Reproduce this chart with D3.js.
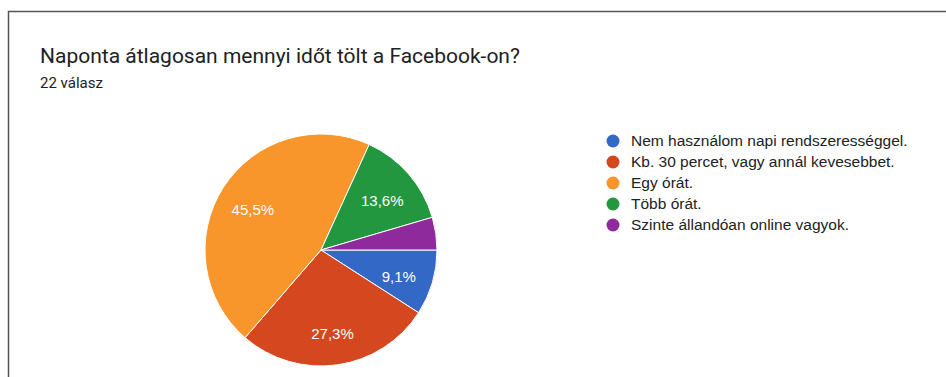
<!DOCTYPE html>
<html><head><meta charset="utf-8">
<script src="https://cdn.jsdelivr.net/npm/d3@7/dist/d3.min.js"></script>
<style>body{margin:0;background:#fff}svg{display:block}</style>
</head><body><svg id="c" width="946" height="377"></svg>
<script>
const categories = ["Nem használom napi rendszerességgel.","Kb. 30 percet, vagy annál kevesebbet.","Egy órát.","Több órát.","Szinte állandóan online vagyok."];
const counts = [2, 6, 10, 3, 1];
const colors = ["#3468c6","#d5471f","#f8962b","#239740","#8e2a9c"];
const title = "Naponta átlagosan mennyi időt tölt a Facebook-on?";
const subtitle = "22 válasz";

const svg = d3.select("#c");
svg.append("path").attr("d","M8.5,377 V11.5 H946").attr("fill","none").attr("stroke","#555").attr("stroke-width",1.5);
svg.append("text").attr("x",40).attr("y",63).attr("font-family","Roboto, sans-serif").attr("font-size",21).attr("fill","#202124").text(title);
svg.append("text").attr("x",40).attr("y",88).attr("font-family","Roboto, sans-serif").attr("font-size",15).attr("fill","#202124").text(subtitle);

const total = d3.sum(counts);
const cx = 321, cy = 250, r = 116;
const pie = d3.pie().sort(null).startAngle(Math.PI/2).endAngle(Math.PI/2 + 2*Math.PI);
const arcs = pie(counts);
const arc = d3.arc().innerRadius(0).outerRadius(r);
const labelArc = d3.arc().innerRadius(81).outerRadius(81);
const g = svg.append("g").attr("transform",`translate(${cx},${cy})`);
g.selectAll("path.s").data(arcs).join("path").attr("class","s")
  .attr("d",arc).attr("fill",(d,i)=>colors[i]).attr("stroke","#fff").attr("stroke-width",1);
const fmt = v => (Math.round(v*1000)/10).toFixed(1).replace(".",",") + "%";
g.selectAll("text").data(arcs.filter(d=>d.data/total>0.05)).join("text")
  .attr("transform",d=>{const c=labelArc.centroid(d);return `translate(${c[0]},${c[1]+3.5})`;})
  .attr("text-anchor","middle").attr("dy","0.35em")
  .attr("font-family","Arial, 'Liberation Sans', sans-serif").attr("font-size",15).attr("fill","#fff")
  .text(d=>fmt(d.data/total));

const lg = svg.append("g");
const ly = d3.scalePoint().domain(categories).range([141,225]);
categories.forEach((c,i)=>{
  lg.append("circle").attr("cx",613).attr("cy",ly(c)).attr("r",6.5).attr("fill",colors[i]);
  lg.append("text").attr("x",631).attr("y",ly(c)).attr("dy","0.35em")
    .attr("font-family","Arial, 'Liberation Sans', sans-serif").attr("font-size",15.5).attr("fill","#222").text(c);
});
</script></body></html>
